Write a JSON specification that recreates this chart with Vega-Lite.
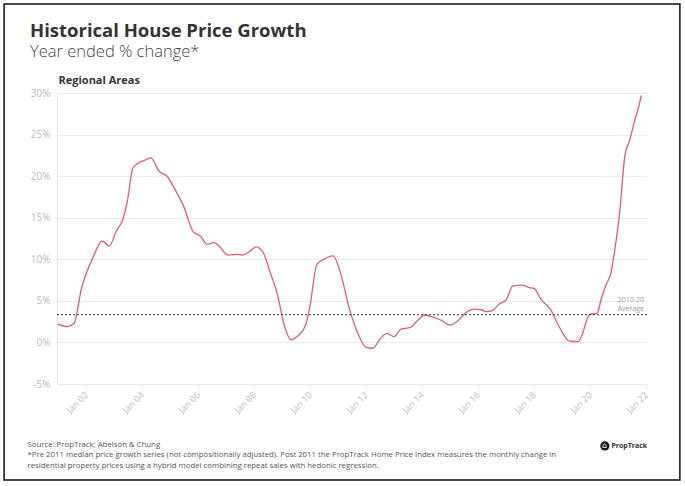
{
  "$schema": "https://vega.github.io/schema/vega-lite/v6.json",
  "width": 590,
  "height": 291,
  "autosize": {"type": "none"},
  "padding": {"left": 57, "top": 93, "right": 38, "bottom": 102},
  "background": "white",
  "config": {"font": "Open Sans", "view": {"stroke": null}},
  "title": {
    "text": "Historical House Price Growth",
    "subtitle": "Year ended % change*",
    "anchor": "start",
    "frame": "group",
    "dx": -27,
    "offset": -57,
    "fontSize": 18.5,
    "fontWeight": "bold",
    "color": "#333333",
    "subtitleFontSize": 16.5,
    "subtitleFontWeight": 300,
    "subtitleColor": "#444444",
    "subtitlePadding": 3
  },
  "datasets": {
    "series": [
      {"date": "2001-01-01", "value": 2.2},
      {"date": "2001-05-01", "value": 1.9},
      {"date": "2001-08-01", "value": 2.3},
      {"date": "2001-09-01", "value": 3.4},
      {"date": "2001-11-01", "value": 6.4},
      {"date": "2002-01-01", "value": 8.2},
      {"date": "2002-04-01", "value": 10.2},
      {"date": "2002-08-01", "value": 12.2},
      {"date": "2002-11-01", "value": 11.6},
      {"date": "2003-02-01", "value": 13.4},
      {"date": "2003-05-01", "value": 14.9},
      {"date": "2003-07-01", "value": 17.3},
      {"date": "2003-09-01", "value": 20.9},
      {"date": "2003-11-01", "value": 21.5},
      {"date": "2004-02-01", "value": 21.9},
      {"date": "2004-05-01", "value": 22.2},
      {"date": "2004-08-01", "value": 20.7},
      {"date": "2004-12-01", "value": 19.9},
      {"date": "2005-03-01", "value": 18.5},
      {"date": "2005-07-01", "value": 16.3},
      {"date": "2005-11-01", "value": 13.3},
      {"date": "2006-02-01", "value": 12.8},
      {"date": "2006-05-01", "value": 11.8},
      {"date": "2006-08-01", "value": 12.0},
      {"date": "2006-10-01", "value": 11.6},
      {"date": "2007-02-01", "value": 10.5},
      {"date": "2007-06-01", "value": 10.6},
      {"date": "2007-08-01", "value": 10.5},
      {"date": "2007-11-01", "value": 10.9},
      {"date": "2008-02-01", "value": 11.5},
      {"date": "2008-05-01", "value": 10.8},
      {"date": "2008-08-01", "value": 8.4},
      {"date": "2008-11-01", "value": 5.8},
      {"date": "2009-02-01", "value": 2.0},
      {"date": "2009-05-01", "value": 0.3},
      {"date": "2009-07-01", "value": 0.6},
      {"date": "2009-11-01", "value": 2.0},
      {"date": "2010-01-01", "value": 4.4},
      {"date": "2010-04-01", "value": 9.4},
      {"date": "2010-07-01", "value": 10.0},
      {"date": "2010-11-01", "value": 10.4},
      {"date": "2011-02-01", "value": 8.4},
      {"date": "2011-06-01", "value": 4.0},
      {"date": "2011-10-01", "value": 0.8},
      {"date": "2012-01-01", "value": -0.6},
      {"date": "2012-04-01", "value": -0.7},
      {"date": "2012-07-01", "value": 0.4},
      {"date": "2012-10-01", "value": 1.1},
      {"date": "2013-01-01", "value": 0.7},
      {"date": "2013-04-01", "value": 1.6},
      {"date": "2013-08-01", "value": 1.8},
      {"date": "2013-11-01", "value": 2.6},
      {"date": "2014-02-01", "value": 3.3},
      {"date": "2014-05-01", "value": 3.1},
      {"date": "2014-09-01", "value": 2.7},
      {"date": "2015-01-01", "value": 2.1},
      {"date": "2015-04-01", "value": 2.5},
      {"date": "2015-08-01", "value": 3.6},
      {"date": "2015-11-01", "value": 4.0},
      {"date": "2016-03-01", "value": 3.9},
      {"date": "2016-04-01", "value": 3.7},
      {"date": "2016-07-01", "value": 3.8},
      {"date": "2016-10-01", "value": 4.6},
      {"date": "2017-01-01", "value": 5.1},
      {"date": "2017-04-01", "value": 6.8},
      {"date": "2017-08-01", "value": 6.9},
      {"date": "2017-11-01", "value": 6.6},
      {"date": "2018-01-01", "value": 6.5},
      {"date": "2018-04-01", "value": 5.2},
      {"date": "2018-08-01", "value": 4.0},
      {"date": "2018-12-01", "value": 1.8},
      {"date": "2019-04-01", "value": 0.2},
      {"date": "2019-08-01", "value": 0.1},
      {"date": "2019-09-01", "value": 0.5},
      {"date": "2020-01-01", "value": 3.4},
      {"date": "2020-04-01", "value": 3.5},
      {"date": "2020-06-01", "value": 5.4},
      {"date": "2020-08-01", "value": 7.0},
      {"date": "2020-10-01", "value": 8.4},
      {"date": "2020-11-01", "value": 10.0},
      {"date": "2020-12-15", "value": 12.8},
      {"date": "2021-02-01", "value": 16.5},
      {"date": "2021-03-01", "value": 19.7},
      {"date": "2021-04-01", "value": 22.5},
      {"date": "2021-06-01", "value": 24.3},
      {"date": "2021-08-01", "value": 26.5},
      {"date": "2021-10-01", "value": 28.5},
      {"date": "2021-11-01", "value": 29.7}
    ],
    "one": [{}]
  },
  "layer": [
    {
      "data": {"name": "one"},
      "mark": {"type": "rect", "fill": null, "fillOpacity": 0, "stroke": "#111111", "strokeWidth": 1.5, "clip": false},
      "encoding": {
        "x": {"datum": {"year": 1999, "month": 1, "date": 29}, "type": "temporal", "scale": {"domain": ["2000-12-19", "2022-01-14"]}},
        "x2": {"datum": {"year": 2023, "month": 3, "date": 19}},
        "y": {"datum": 40.7, "type": "quantitative", "scale": {"domain": [-5, 30]}},
        "y2": {"datum": -16.55}
      }
    },
    {
      "data": {"name": "series"},
      "mark": {"type": "line", "interpolate": "monotone", "color": "#dc5f72", "strokeWidth": 1.3},
      "encoding": {
        "x": {
          "field": "date",
          "type": "temporal",
          "scale": {"domain": ["2000-12-19", "2022-01-14"]},
          "axis": {
            "format": "Jan %y",
            "tickCount": {"interval": "year", "step": 2},
            "labelAngle": -45,
            "labelAlign": "right",
            "labelBaseline": "middle",
            "labelColor": "#bbbbbb",
            "labelFontSize": 9,
            "labelPadding": 4,
            "grid": false,
            "domainColor": "#e8e8e8",
            "tickColor": "#e8e8e8",
            "tickSize": 5,
            "title": [
              "Source: PropTrack; Abelson & Chung",
              "*Pre 2011 median price growth series (not compositionally adjusted). Post 2011 the PropTrack Home Price Index measures the monthly change in",
              "residential property prices using a hybrid model combining repeat sales with hedonic regression."
            ],
            "titleAlign": "left",
            "titleAnchor": "start",
            "titleBaseline": "top",
            "titleX": -30,
            "titleY": 56,
            "titleFontSize": 7.8,
            "titleFontWeight": "normal",
            "titleColor": "#555555",
            "titleLineHeight": 10.5
          }
        },
        "y": {
          "field": "value",
          "type": "quantitative",
          "scale": {"domain": [-5, 30]},
          "axis": {
            "values": [-5, 0, 5, 10, 15, 20, 25, 30],
            "labelExpr": "datum.value + '%'",
            "grid": true,
            "gridColor": "#ececec",
            "domainColor": "#e8e8e8",
            "ticks": false,
            "labelColor": "#bbbbbb",
            "labelFontSize": 10,
            "labelPadding": 7,
            "title": "Regional Areas",
            "titleAngle": 0,
            "titleAlign": "left",
            "titleBaseline": "alphabetic",
            "titleX": 1,
            "titleY": -10,
            "titleFontSize": 11,
            "titleFontWeight": "bold",
            "titleColor": "#333333"
          }
        }
      }
    },
    {
      "data": {"name": "one"},
      "mark": {"type": "rule", "color": "#333333", "strokeDash": [2, 2], "strokeWidth": 1},
      "encoding": {
        "y": {"datum": 3.33, "type": "quantitative", "scale": {"domain": [-5, 30]}}
      }
    },
    {
      "data": {"name": "one"},
      "mark": {"type": "text", "align": "right", "baseline": "middle", "fontSize": 7, "color": "#999999", "clip": false},
      "encoding": {
        "x": {"datum": {"year": 2021, "month": 12, "date": 5}, "type": "temporal", "scale": {"domain": ["2000-12-19", "2022-01-14"]}},
        "y": {"datum": 5.05, "type": "quantitative", "scale": {"domain": [-5, 30]}},
        "text": {"value": "2010-20"}
      }
    },
    {
      "data": {"name": "one"},
      "mark": {"type": "text", "align": "right", "baseline": "middle", "fontSize": 7, "color": "#999999", "clip": false},
      "encoding": {
        "x": {"datum": {"year": 2021, "month": 12, "date": 5}, "type": "temporal", "scale": {"domain": ["2000-12-19", "2022-01-14"]}},
        "y": {"datum": 3.98, "type": "quantitative", "scale": {"domain": [-5, 30]}},
        "text": {"value": "Average"}
      }
    },
    {
      "data": {"name": "one"},
      "mark": {"type": "point", "filled": true, "color": "#1a1a1a", "size": 85, "opacity": 1, "clip": false},
      "encoding": {
        "x": {"datum": {"year": 2020, "month": 7, "date": 13}, "type": "temporal", "scale": {"domain": ["2000-12-19", "2022-01-14"]}},
        "y": {"datum": -12.45, "type": "quantitative", "scale": {"domain": [-5, 30]}}
      }
    },
    {
      "data": {"name": "one"},
      "mark": {"type": "text", "align": "center", "baseline": "middle", "fontSize": 8, "font": "DejaVu Sans", "color": "white", "clip": false},
      "encoding": {
        "x": {"datum": {"year": 2020, "month": 7, "date": 13}, "type": "temporal", "scale": {"domain": ["2000-12-19", "2022-01-14"]}},
        "y": {"datum": -12.45, "type": "quantitative", "scale": {"domain": [-5, 30]}},
        "text": {"value": "⌂"}
      }
    },
    {
      "data": {"name": "one"},
      "mark": {"type": "text", "align": "left", "baseline": "middle", "fontSize": 7, "fontWeight": "bold", "color": "#333333", "clip": false},
      "encoding": {
        "x": {"datum": {"year": 2020, "month": 10, "date": 7}, "type": "temporal", "scale": {"domain": ["2000-12-19", "2022-01-14"]}},
        "y": {"datum": -12.45, "type": "quantitative", "scale": {"domain": [-5, 30]}},
        "text": {"value": "PropTrack"}
      }
    }
  ]
}
